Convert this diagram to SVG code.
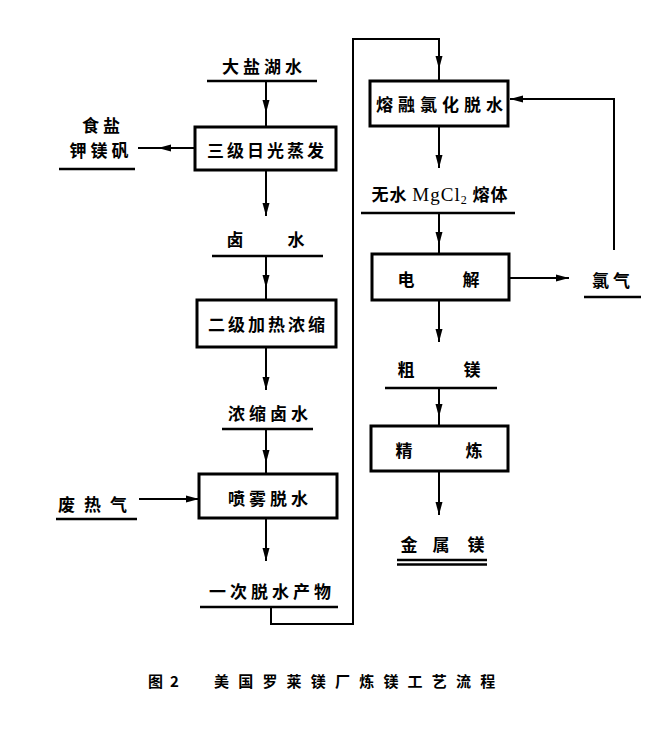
<svg xmlns="http://www.w3.org/2000/svg" width="670" height="733" viewBox="0 0 670 733">
<defs>
<marker id="ah" markerUnits="userSpaceOnUse" markerWidth="14" markerHeight="10" refX="13" refY="4" orient="auto" overflow="visible">
<path d="M0,0.5 L13,4 L0,7.5 z" fill="#000"/>
</marker>
<style>
.box{fill:#fff;stroke:#000;stroke-width:3}
.ln{fill:none;stroke:#000;stroke-width:2}
.ul{stroke:#000;stroke-width:2.5}
.t{font-family:"Noto Sans CJK SC","Noto Sans CJK JP",sans-serif;font-size:17px;font-weight:700;fill:#000;text-anchor:middle}
.cap{font-family:"Noto Sans CJK SC",sans-serif;font-size:15px;font-weight:700;fill:#000}
</style>
</defs>
<rect width="670" height="733" fill="#fff"/>
<g id="connectors">
<path class="ln" d="M266 81 L266 113 L266 127" marker-mid="url(#ah)"/>
<path class="ln" d="M266 170 L266 216" marker-end="url(#ah)"/>
<path class="ln" d="M195 148 L158 148 L138 148" marker-mid="url(#ah)"/>
<path class="ln" d="M266 256 L266 288 L266 300" marker-mid="url(#ah)"/>
<path class="ln" d="M266 347 L266 390" marker-end="url(#ah)"/>
<path class="ln" d="M266 429 L266 463 L266 474" marker-mid="url(#ah)"/>
<path class="ln" d="M139 499 L199 499" marker-end="url(#ah)"/>
<path class="ln" d="M266 518 L266 561" marker-end="url(#ah)"/>
<path class="ln" d="M271 607 V624 H353 V39 H439"/>
<path class="ln" d="M439 38 L439 69 L439 81" marker-mid="url(#ah)"/>
<path class="ln" d="M439 126 L439 168" marker-end="url(#ah)"/>
<path class="ln" d="M439 213 L439 245 L439 254" marker-mid="url(#ah)"/>
<path class="ln" d="M439 300 L439 342" marker-end="url(#ah)"/>
<path class="ln" d="M439 388 L439 417 L439 426" marker-mid="url(#ah)"/>
<path class="ln" d="M439 471 L439 515" marker-end="url(#ah)"/>
<path class="ln" d="M509 278 L569 278" marker-end="url(#ah)"/>
<path class="ln" d="M614 250 V99 H531"/>
<path class="ln" d="M532 99 L510 99" marker-end="url(#ah)"/>
</g>
<g id="n-dayanhu">
<text class="t" x="264" y="73" letter-spacing="4">大盐湖水</text>
<line class="ul" x1="207" y1="81" x2="317" y2="81"/>
</g>
<g id="n-salt">
<text class="t" x="103" y="132" letter-spacing="4">食盐</text>
<text class="t" x="101" y="157" letter-spacing="4">钾镁矾</text>
<line class="ul" x1="59" y1="169" x2="135" y2="169"/>
</g>
<g id="n-solar">
<rect class="box" x="195" y="127" width="141" height="43"/>
<text class="t" x="267" y="157" letter-spacing="3">三级日光蒸发</text>
</g>
<g id="n-brine">
<text class="t" x="235" y="246">卤</text>
<text class="t" x="296" y="246">水</text>
<line class="ul" x1="212" y1="256" x2="323" y2="256"/>
</g>
<g id="n-conc">
<rect class="box" x="197" y="300" width="139" height="47"/>
<text class="t" x="268" y="331" letter-spacing="3">二级加热浓缩</text>
</g>
<g id="n-concbrine">
<text class="t" x="270" y="420" letter-spacing="4">浓缩卤水</text>
<line class="ul" x1="222" y1="429" x2="313" y2="429"/>
</g>
<g id="n-waste">
<text class="t" x="97" y="511" letter-spacing="9">废热气</text>
<line class="ul" x1="56" y1="519" x2="137" y2="519"/>
</g>
<g id="n-spray">
<rect class="box" x="199" y="474" width="138" height="44"/>
<text class="t" x="270" y="505" letter-spacing="4">喷雾脱水</text>
</g>
<g id="n-first">
<text class="t" x="272" y="598" letter-spacing="4">一次脱水产物</text>
<line class="ul" x1="200" y1="607" x2="338" y2="607"/>
</g>
<g id="n-fused">
<rect class="box" x="370" y="81" width="138" height="45"/>
<text class="t" x="442" y="111" letter-spacing="5">熔融氯化脱水</text>
</g>
<g id="n-mgcl2">
<text class="t" x="440" y="201" letter-spacing="1">无水 <tspan font-family="Liberation Serif, serif" font-weight="400" font-size="19">MgCl<tspan font-size="12" dy="3">2</tspan></tspan><tspan dy="-3"> 熔体</tspan></text>
<line class="ul" x1="361" y1="213" x2="515" y2="213"/>
</g>
<g id="n-electro">
<rect class="box" x="372" y="254" width="137" height="46"/>
<text class="t" x="406" y="286">电</text>
<text class="t" x="471" y="286">解</text>
</g>
<g id="n-cl2">
<text class="t" x="613" y="287" letter-spacing="4">氯气</text>
<line class="ul" x1="584" y1="297" x2="641" y2="297"/>
</g>
<g id="n-crude">
<text class="t" x="406" y="376">粗</text>
<text class="t" x="472" y="376">镁</text>
<line class="ul" x1="385" y1="388" x2="497" y2="388"/>
</g>
<g id="n-refine">
<rect class="box" x="371" y="426" width="137" height="45"/>
<text class="t" x="404" y="457">精</text>
<text class="t" x="474" y="457">炼</text>
</g>
<g id="n-metal">
<text class="t" x="409" y="551">金</text>
<text class="t" x="441" y="551">属</text>
<text class="t" x="476" y="551">镁</text>
<line class="ul" x1="397" y1="560" x2="487" y2="560" stroke-width="2"/>
<line class="ul" x1="397" y1="564.5" x2="487" y2="564.5" stroke-width="2"/>
</g>
<g id="caption">
<text class="cap" x="148" y="687">图</text>
<text class="cap" x="170" y="687" font-family="Liberation Serif, serif">2</text>
<text class="cap" x="214" y="687" letter-spacing="9.2">美国罗莱镁厂炼镁工艺流程</text>
</g>
</svg>
